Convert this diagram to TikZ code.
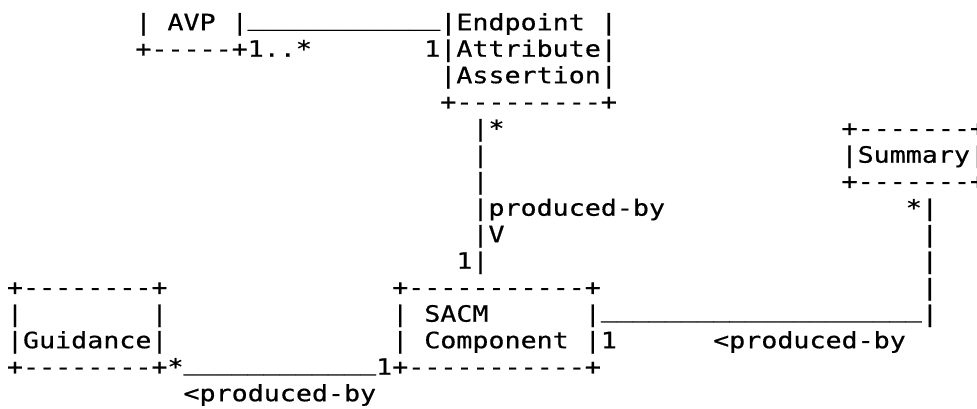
\documentclass[tikz,border=0pt]{standalone}
\usepackage{fontspec}
\setmonofont[FakeStretch=1.185,FakeBold=0.6]{DejaVu Sans Mono}
% character grid: column width and row height, in pt
\newcommand\gridx[1]{6.98+#1*16.05}
\newcommand\gridy[1]{-30.2-#1*26.5}
% one run of characters, placed on the grid by row and column
\newcommand\seg[4]{\node[ascii] (#1) at ({\gridx{#3}},{\gridy{#2}}) {#4};}
% underscores sit on the baseline
\newcommand\usc[1]{\raisebox{0.21em}{#1}}
\newcommand\ufour{\_\_\_\_}
\tikzset{ascii/.style={anchor=base west, inner sep=0pt, outer sep=0pt,
  font=\fontsize{22.5}{26.5}\selectfont\ttfamily}}
\begin{document}
\begin{tikzpicture}[x=1pt,y=1pt]
\useasboundingbox (0,0) rectangle (977,-409);
% AVP and Endpoint Attribute Assertion
\seg{avpL}{0}{8}{|}
\seg{avp}{0}{10}{AVP}
\seg{avpR}{0}{14}{|\usc{\ufour\ufour\ufour}|Endpoint}
\seg{eaaR}{0}{37}{|}
\seg{avpB}{1}{8}{+-----+1..*}
\seg{eaaA}{1}{26}{1|Attribute|}
\seg{eaaC}{2}{27}{|Assertion|}
\seg{eaaB}{3}{27}{+---------+}
% link down to SACM Component
\seg{v4}{4}{29}{|*}
\seg{v5}{5}{29}{|}
\seg{v6}{6}{29}{|}
\seg{v7}{7}{29}{|produced-by}
\seg{v8}{8}{29}{|V}
\seg{v9}{9}{28}{1|}
% Summary
\seg{sumT}{4}{52}{+-------+}
\seg{sumM}{5}{52}{|Summary|}
\seg{sumB}{6}{52}{+-------+}
\seg{s7}{7}{56}{*|}
\seg{s8}{8}{57}{|}
\seg{s9}{9}{57}{|}
\seg{s10}{10}{57}{|}
% Guidance and SACM Component
\seg{gT}{10}{0}{+--------+}
\seg{cT}{10}{24}{+-----------+}
\seg{gL}{11}{0}{|}
\seg{gR}{11}{9}{|}
\seg{cL}{11}{24}{|}
\seg{cS}{11}{26}{SACM}
\seg{cR}{11}{36}{|\usc{\ufour\ufour\ufour\ufour\ufour}|}
\seg{gM}{12}{0}{|Guidance|}
\seg{cL2}{12}{24}{|}
\seg{cC}{12}{26}{Component}
\seg{cR2}{12}{36}{|1}
\seg{sLab}{12}{44}{<produced-by}
\seg{bottom}{13}{0}{+--------+*\usc{\ufour\ufour\ufour}1+-----------+}
\seg{gLab}{14}{11}{<produced-by}
\end{tikzpicture}
\end{document}
